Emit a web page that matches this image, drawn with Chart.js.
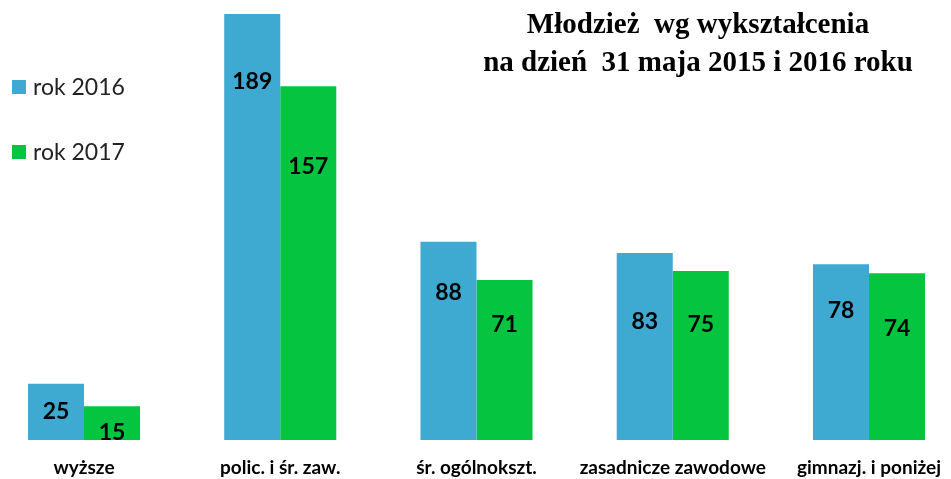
<!DOCTYPE html>
<html>
<head>
<meta charset="UTF-8">
<title>Młodzież wg wykształcenia</title>
<style>
  body { margin: 0; background: #fff; }
  .chartBox { width: 951px; height: 479px; }
</style>
</head>
<body>
<div class="chartBox">
  <canvas id="myChart"></canvas>
</div>
<script src="https://cdn.jsdelivr.net/npm/chart.js"></script>
<script>
// dane
const kategorie = ['wyższe', 'polic. i śr. zaw.', 'śr. ogólnokszt.', 'zasadnicze zawodowe', 'gimnazj. i poniżej'];
const rok2016 = [25, 189, 88, 83, 78];
const rok2017 = [15, 157, 71, 75, 74];
const tytul = ['Młodzież  wg wykształcenia', 'na dzień  31 maja 2015 i 2016 roku'];

// przesuniecie etykiet od gory slupka (tak jak w obrazku)
const przesuniecia = [
  [28, 68, 51, 69, 46],
  [26, 80, 45, 54, 55]
];

const etykiety = {
  id: 'etykiety',
  afterDatasetsDraw(chart) {
    const ctx = chart.ctx;
    ctx.save();
    ctx.font = 'bold 23px Lato';
    ctx.fillStyle = '#000';
    ctx.textAlign = 'center';
    ctx.textBaseline = 'middle';
    chart.data.datasets.forEach((ds, i) => {
      chart.getDatasetMeta(i).data.forEach((bar, j) => {
        ctx.fillText(ds.data[j], bar.x, bar.y + przesuniecia[i][j]);
      });
    });
    ctx.restore();
  }
};

const tytulILegenda = {
  id: 'tytulILegenda',
  afterDraw(chart) {
    const ctx = chart.ctx;
    ctx.save();
    // tytul
    ctx.font = 'bold 29px "Liberation Serif"';
    ctx.fillStyle = '#000';
    ctx.textAlign = 'center';
    ctx.textBaseline = 'alphabetic';
    ctx.fillText(tytul[0], 698, 33);
    ctx.fillText(tytul[1], 698, 71);
    // legenda
    ctx.font = '23px Lato';
    ctx.textAlign = 'left';
    ctx.textBaseline = 'middle';
    chart.data.datasets.forEach((ds, i) => {
      const y = 87 + i * 65;
      ctx.fillStyle = ds.backgroundColor;
      ctx.fillRect(12, y - 7, 14, 14);
      ctx.fillStyle = '#222';
      ctx.fillText(ds.label, 33, y + 1);
    });
    ctx.restore();
  }
};

const data = {
  labels: kategorie,
  datasets: [
    { label: 'rok 2016', data: rok2016, backgroundColor: '#3EA9D1' },
    { label: 'rok 2017', data: rok2017, backgroundColor: '#04C440' }
  ]
};

const config = {
  type: 'bar',
  data,
  options: {
    responsive: true,
    maintainAspectRatio: false,
    animation: false,
    layout: { padding: { left: 84, right: 82, top: 14, bottom: 0 } },
    datasets: { bar: { categoryPercentage: 0.571, barPercentage: 1, clip: false } },
    plugins: {
      legend: { display: false },
      title: { display: false },
      tooltip: { enabled: false }
    },
    scales: {
      x: {
        offset: false,
        grid: { display: false, drawTicks: false },
        border: { display: false },
        afterFit(scale) {
          scale.height = 39;
          scale.paddingLeft = 0;
          scale.paddingRight = 0;
        },
        ticks: {
          padding: 16,
          maxRotation: 0,
          autoSkip: false,
          color: '#000',
          font: { family: 'Lato', weight: 'bold', size: 19 }
        }
      },
      y: {
        display: false,
        min: 0,
        max: 189
      }
    }
  },
  plugins: [etykiety, tytulILegenda]
};

const myChart = new Chart(document.getElementById('myChart'), config);
</script>
</body>
</html>
